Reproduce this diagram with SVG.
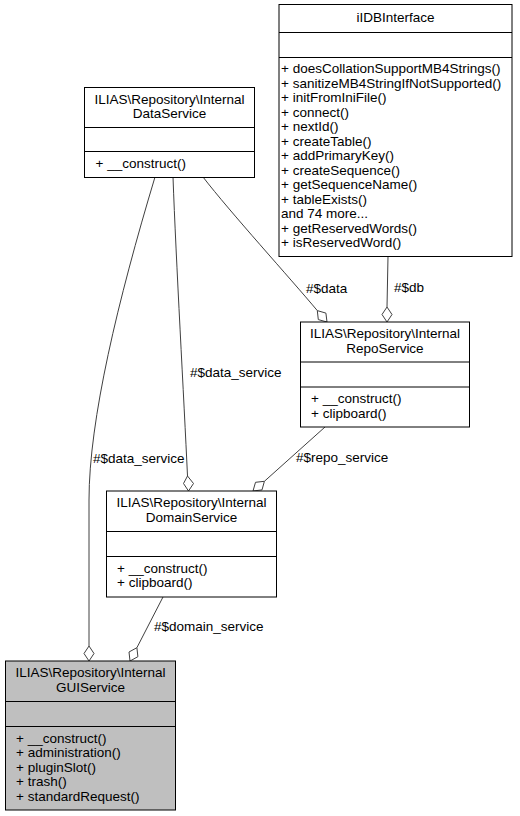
<svg xmlns="http://www.w3.org/2000/svg" width="520" height="816" viewBox="0 0 520 816">
<style>
text{font-family:"Liberation Sans",Arial,Helvetica,sans-serif;font-size:13.5px;fill:#000}
.t{text-anchor:middle}
.box{fill:#fff;stroke:#000;stroke-width:1}
.cur{fill:#bfbfbf;stroke:#000;stroke-width:1}
.sep{stroke:#000;stroke-width:1}
.e{fill:none;stroke:#404040;stroke-width:1}
.d{fill:#fff;stroke:#404040;stroke-width:1}
</style>
<rect width="520" height="816" fill="#fff"/>
<g id="connectors">
  <path class="e" d="M388,256.5 L387,307"/>
  <polygon class="d" points="387,322 392,314.5 387,307 382,314.5"/>
  <text x="394" y="292">#$db</text>

  <path class="e" d="M203,177 C230,212 290,278 317.3,310.6"/>
  <polygon class="d" points="327,322 318.3,319.6 317.3,310.6 325.9,313.1"/>
  <text x="306" y="293">#$data</text>

  <path class="e" d="M173,177 C176,260 184,400 187.5,476"/>
  <polygon class="d" points="188.5,491 193.5,483.5 187.5,476 183.5,483.5"/>
  <text x="190" y="377">#$data_service</text>

  <path class="e" d="M325,427 L264.4,481.3"/>
  <polygon class="d" points="253,491 262,489.9 264.4,481.3 255.5,482.3"/>
  <text x="296" y="462">#$repo_service</text>

  <path class="e" d="M155,177 C118,300 89,420 89,500 L89,646"/>
  <polygon class="d" points="89,661 94,653.5 89,646 84,653.5"/>
  <text x="93" y="463">#$data_service</text>

  <path class="e" d="M163,597 L136.9,647.7"/>
  <polygon class="d" points="130,661 137.9,656.7 136.9,647.7 129,652"/>
  <text x="154" y="631">#$domain_service</text>
</g>
<g id="iIDBInterface">
  <rect class="box" x="279" y="4.5" width="233" height="252"/>
  <line class="sep" x1="279" y1="32.5" x2="512" y2="32.5"/>
  <line class="sep" x1="279" y1="57.5" x2="512" y2="57.5"/>
  <text class="t" x="395.5" y="22">iIDBInterface</text>
  <text x="281" y="73">+ doesCollationSupportMB4Strings()</text>
  <text x="281" y="87.5">+ sanitizeMB4StringIfNotSupported()</text>
  <text x="281" y="102">+ initFromIniFile()</text>
  <text x="281" y="116.5">+ connect()</text>
  <text x="281" y="131">+ nextId()</text>
  <text x="281" y="145.5">+ createTable()</text>
  <text x="281" y="160">+ addPrimaryKey()</text>
  <text x="281" y="174.5">+ createSequence()</text>
  <text x="281" y="189">+ getSequenceName()</text>
  <text x="281" y="203.5">+ tableExists()</text>
  <text x="281" y="218">and 74 more...</text>
  <text x="281" y="232.5">+ getReservedWords()</text>
  <text x="281" y="247">+ isReservedWord()</text>
</g>
<g id="DataService">
  <rect class="box" x="84.5" y="87.5" width="170" height="90"/>
  <line class="sep" x1="84.5" y1="127.5" x2="254.5" y2="127.5"/>
  <line class="sep" x1="84.5" y1="151.5" x2="254.5" y2="151.5"/>
  <text class="t" x="169.5" y="103.5">ILIAS\Repository\Internal</text>
  <text class="t" x="169.5" y="118">DataService</text>
  <text x="95.5" y="167.5">+ __construct()</text>
</g>
<g id="RepoService">
  <rect class="box" x="300.5" y="322" width="169" height="105"/>
  <line class="sep" x1="300.5" y1="362" x2="469.5" y2="362"/>
  <line class="sep" x1="300.5" y1="387" x2="469.5" y2="387"/>
  <text class="t" x="385" y="338">ILIAS\Repository\Internal</text>
  <text class="t" x="385" y="352.5">RepoService</text>
  <text x="311" y="403">+ __construct()</text>
  <text x="311" y="417.5">+ clipboard()</text>
</g>
<g id="DomainService">
  <rect class="box" x="106.5" y="491" width="170" height="106"/>
  <line class="sep" x1="106.5" y1="531.5" x2="276.5" y2="531.5"/>
  <line class="sep" x1="106.5" y1="556.5" x2="276.5" y2="556.5"/>
  <text class="t" x="191.5" y="507">ILIAS\Repository\Internal</text>
  <text class="t" x="191.5" y="521.5">DomainService</text>
  <text x="117" y="572.5">+ __construct()</text>
  <text x="117" y="587">+ clipboard()</text>
</g>
<g id="GUIService">
  <rect class="cur" x="5.5" y="661" width="170" height="149"/>
  <line class="sep" x1="5.5" y1="701.5" x2="175.5" y2="701.5"/>
  <line class="sep" x1="5.5" y1="726.5" x2="175.5" y2="726.5"/>
  <text class="t" x="90.5" y="677">ILIAS\Repository\Internal</text>
  <text class="t" x="90.5" y="691.5">GUIService</text>
  <text x="16" y="742.5">+ __construct()</text>
  <text x="16" y="757">+ administration()</text>
  <text x="16" y="771.5">+ pluginSlot()</text>
  <text x="16" y="786">+ trash()</text>
  <text x="16" y="800.5">+ standardRequest()</text>
</g>
</svg>
